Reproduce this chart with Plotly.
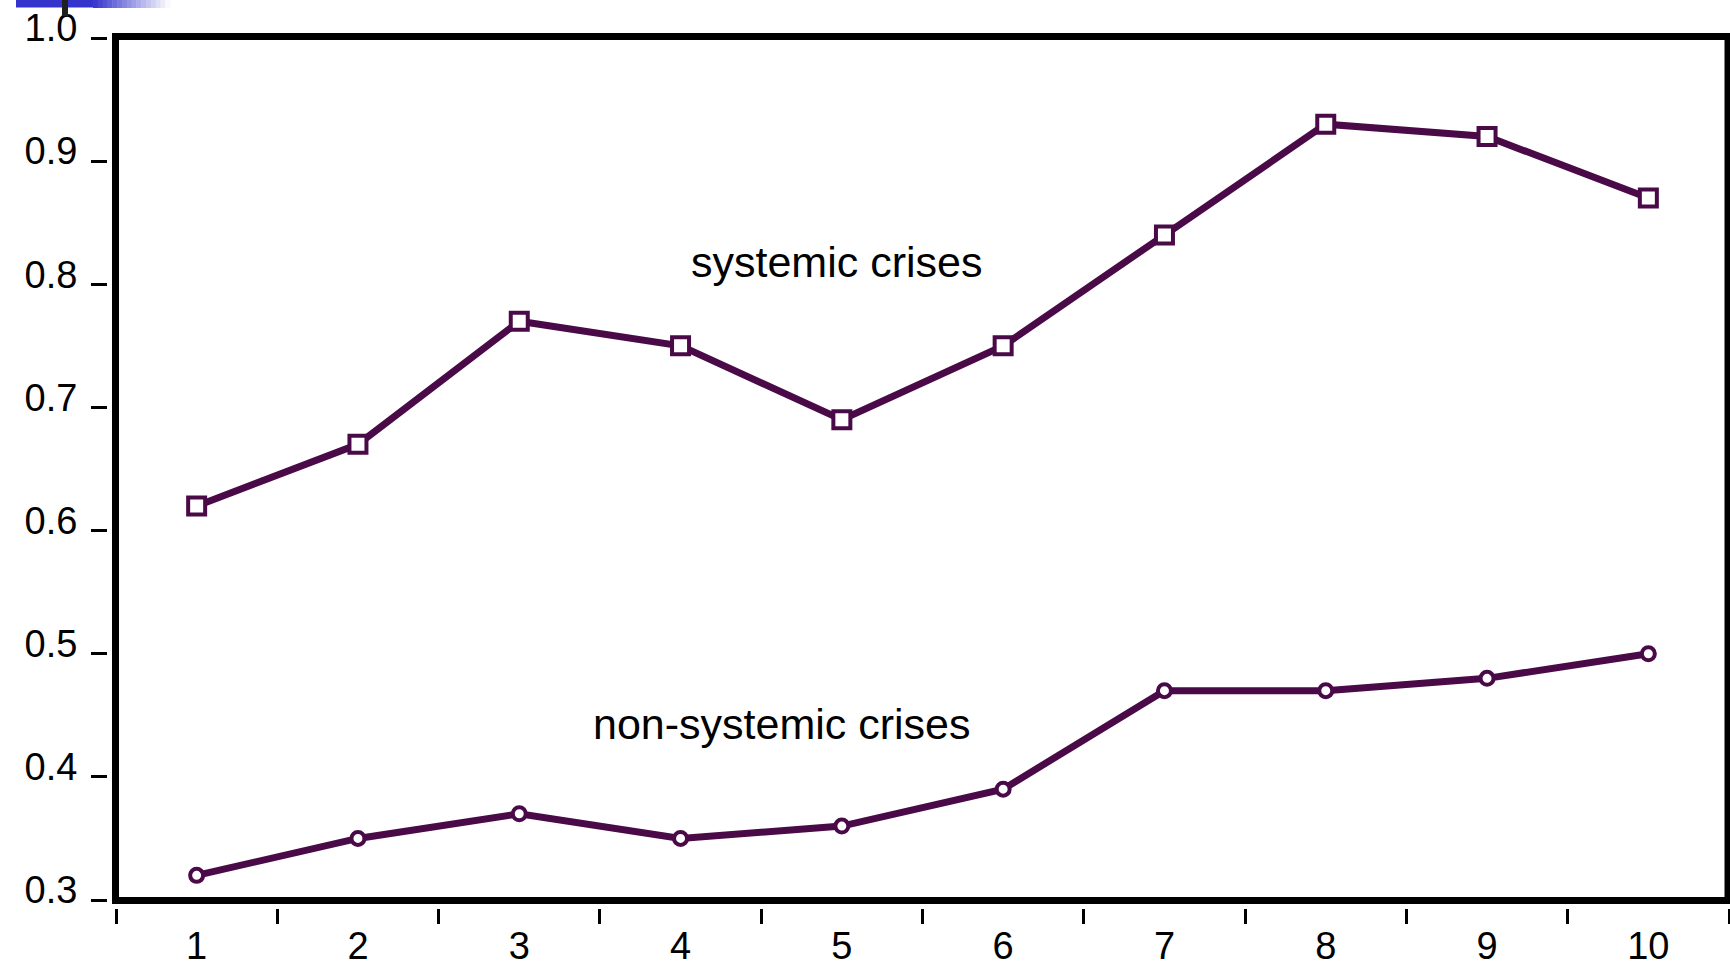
import plotly.graph_objects as go

# ---- data ----
periods = ["1", "2", "3", "4", "5", "6", "7", "8", "9", "10"]
systemic = [0.62, 0.67, 0.77, 0.75, 0.69, 0.75, 0.84, 0.93, 0.92, 0.87]
non_systemic = [0.32, 0.35, 0.37, 0.35, 0.36, 0.39, 0.47, 0.47, 0.48, 0.50]
y_ticks = [0.3, 0.4, 0.5, 0.6, 0.7, 0.8, 0.9, 1.0]
y_tick_labels = ["0.3", "0.4", "0.5", "0.6", "0.7", "0.8", "0.9", "1.0"]
label_systemic = "systemic crises"
label_non_systemic = "non-systemic crises"

# ---- layout geometry (pixels) ----
W, H = 1730, 965
ML, MR, MT, MB = 108, 0, 38, 57
PW, PH = W - ML - MR, H - MT - MB


def px_x(p):
    return (p - ML) / PW


def px_y(p):
    return (H - MB - p) / PH


LINE = "#4a0a48"
FONT = "Liberation Sans, Arial, sans-serif"

fig = go.Figure()
fig.add_trace(go.Scatter(
    x=periods, y=systemic, mode="lines+markers",
    line=dict(color=LINE, width=7),
    marker=dict(symbol="square", size=17, color="white",
                line=dict(color=LINE, width=4)),
    showlegend=False, cliponaxis=False,
))
fig.add_trace(go.Scatter(
    x=periods, y=non_systemic, mode="lines+markers",
    line=dict(color=LINE, width=7),
    marker=dict(symbol="circle", size=13, color="white",
                line=dict(color=LINE, width=4)),
    showlegend=False, cliponaxis=False,
))

# category axis: px per category ~161.3, first boundary at x=116
step = 161.3
left_val = -0.5 - (116 - ML) / step
right_val = left_val + PW / step

# y: 1.0 at y=38, 0.3 at y=900
ppu = (900 - 38) / 0.7
y_top = 1.0 + (38 - MT) / ppu
y_bot = 0.3 - (H - MB - 900) / ppu

fig.update_layout(
    width=W, height=H,
    margin=dict(l=ML, r=MR, t=MT, b=MB, pad=0, autoexpand=False),
    paper_bgcolor="white", plot_bgcolor="white",
    font=dict(family=FONT, color="black"),
    xaxis=dict(
        type="category", range=[left_val, right_val], automargin=False,
        tickson="boundaries", ticks="outside", ticklen=15, tickwidth=2.5,
        tickcolor="black", showgrid=False, zeroline=False, showline=False,
        tickfont=dict(size=38, family=FONT, color="black"),
        ticklabelstandoff=12,
    ),
    yaxis=dict(
        range=[y_bot, y_top], tickvals=y_ticks, ticktext=y_tick_labels,
        automargin=False,
        ticks="outside", ticklen=16, tickwidth=2.5, tickcolor="black",
        showgrid=False, zeroline=False, showline=False,
        tickfont=dict(size=38, family=FONT, color="black"),
        ticklabelstandoff=6, ticklabelshift=-10,
    ),
)

shapes = []
# frame
shapes.append(dict(type="rect", xref="paper", yref="paper",
                   x0=px_x(115.5), x1=px_x(1728), y0=px_y(900.5), y1=px_y(36.5),
                   line=dict(color="black", width=7), fillcolor="rgba(0,0,0,0)",
                   layer="above"))
# top-left slide decoration: solid blue bar + gradient fade
shapes.append(dict(type="rect", xref="paper", yref="paper",
                   x0=px_x(16), x1=px_x(93), y0=px_y(7.5), y1=px_y(-2),
                   line=dict(width=0), fillcolor="#3434cc"))
n = 16
for i in range(n):
    t = (i + 0.5) / n
    r = int(0x34 + (255 - 0x34) * t)
    g = int(0x34 + (255 - 0x34) * t)
    b = int(0xcc + (255 - 0xcc) * t)
    x0 = 93 + (170 - 93) * i / n
    x1 = 93 + (170 - 93) * (i + 1) / n + 0.5
    shapes.append(dict(type="rect", xref="paper", yref="paper",
                       x0=px_x(x0), x1=px_x(x1), y0=px_y(8), y1=px_y(-2),
                       line=dict(width=0), fillcolor=f"rgb({r},{g},{b})"))
shapes.append(dict(type="rect", xref="paper", yref="paper",
                   x0=px_x(62), x1=px_x(68), y0=px_y(16), y1=px_y(-2),
                   line=dict(width=0), fillcolor="#202020"))
fig.update_layout(shapes=shapes)

fig.add_annotation(text=label_systemic, xref="paper", yref="paper",
                   x=px_x(836), y=px_y(262), xanchor="center", yanchor="middle",
                   showarrow=False, font=dict(size=43, family=FONT, color="black"))
fig.add_annotation(text=label_non_systemic, xref="paper", yref="paper",
                   x=px_x(782), y=px_y(724), xanchor="center", yanchor="middle",
                   showarrow=False, font=dict(size=43, family=FONT, color="black"))

fig.write_html(
    "out.html",
    config={"displayModeBar": False},
    post_script="document.body.style.margin='0';document.body.style.overflow='hidden';",
)
